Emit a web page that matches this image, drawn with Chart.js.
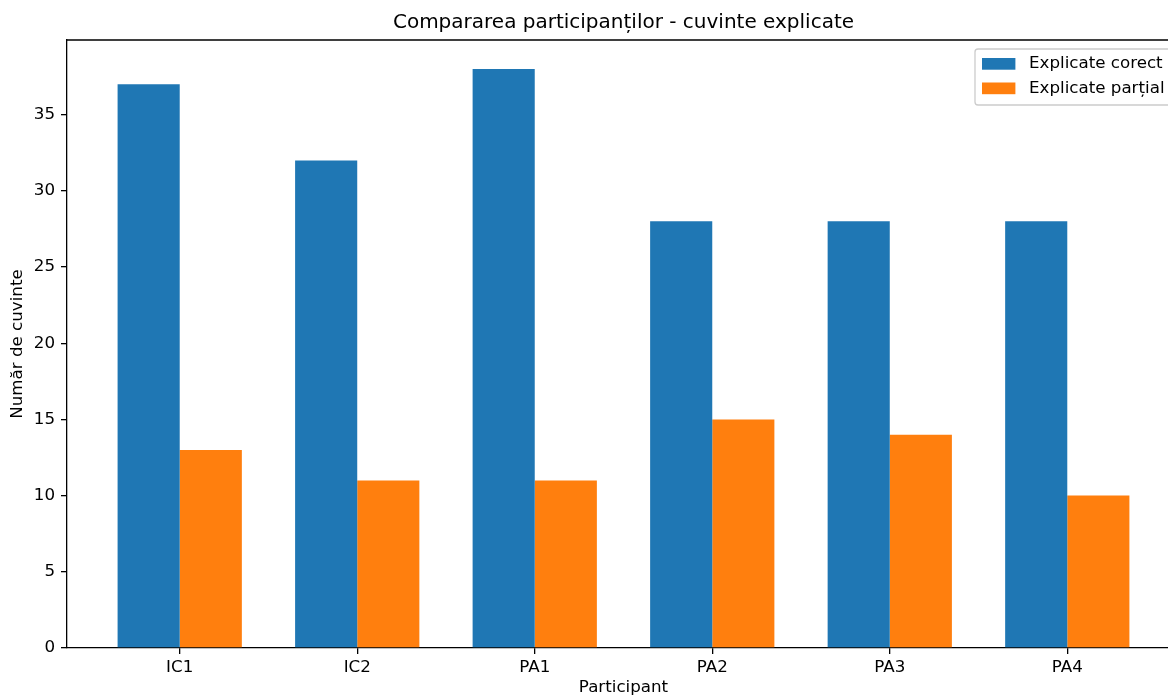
<!DOCTYPE html>
<html>
<head>
<meta charset="utf-8">
<script src="https://cdn.jsdelivr.net/npm/chart.js@4.4.1/dist/chart.umd.min.js"></script>
<style>
  html, body { margin: 0; padding: 0; background: #fff; overflow: hidden; }
  #wrap { width: 1200px; height: 700px; }
</style>
</head>
<body>
<div id="wrap"><canvas id="chart" width="1200" height="700"></canvas></div>
<script>
const categories = ['IC1', 'IC2', 'PA1', 'PA2', 'PA3', 'PA4'];
const correctValues = [37, 32, 38, 28, 28, 28];
const partialValues = [13, 11, 11, 15, 14, 10];
const yTicks = [0, 5, 10, 15, 20, 25, 30, 35];
const seriesLabels = ['Explicate corect', 'Explicate parțial'];
const seriesColors = ['#1f77b4', '#ff7f0e'];
const chartTitle = 'Compararea participanților - cuvinte explicate';

const FONT = 'DejaVu Sans';

// top and right spines plus the title centred over the axes, like matplotlib
const framePlugin = {
    id: 'frame',
    afterDraw(chart) {
        const { ctx, chartArea: a } = chart;
        ctx.save();
        ctx.strokeStyle = '#000';
        ctx.lineWidth = 1.3;
        ctx.beginPath();
        ctx.moveTo(a.left, a.top);
        ctx.lineTo(a.right, a.top);
        ctx.lineTo(a.right, a.bottom);
        ctx.stroke();

        ctx.fillStyle = '#000';
        ctx.font = `20px "${FONT}"`;
        ctx.textAlign = 'center';
        ctx.textBaseline = 'middle';
        ctx.fillText(chartTitle, (a.left + a.right) / 2, 23);
        ctx.restore();
    }
};

// matplotlib-style legend box in the upper right corner
const legendPlugin = {
    id: 'mplLegend',
    afterDraw(chart) {
        const { ctx, chartArea: a } = chart;
        const x = 975, y = 49, w = a.right - 7 - x, h = 56;
        ctx.save();
        ctx.fillStyle = 'rgba(255,255,255,0.8)';
        ctx.strokeStyle = 'rgba(204,204,204,1)';
        ctx.lineWidth = 1.3;
        ctx.beginPath();
        ctx.roundRect(x, y, w, h, 3);
        ctx.fill();
        ctx.stroke();
        ctx.font = `16.7px "${FONT}"`;
        ctx.textBaseline = 'middle';
        chart.data.datasets.forEach((ds, i) => {
            const rowY = 58 + i * 24.5;
            ctx.fillStyle = ds.backgroundColor;
            ctx.fillRect(982, rowY, 33.4, 11.7);
            ctx.fillStyle = '#000';
            ctx.fillText(ds.label, 1029, rowY + 6);
        });
        ctx.restore();
    }
};

new Chart(document.getElementById('chart'), {
    type: 'bar',
    data: {
        datasets: [
            {
                label: seriesLabels[0],
                data: correctValues.map((v, i) => ({ x: i, y: v })),
                backgroundColor: seriesColors[0],
                borderWidth: 0
            },
            {
                label: seriesLabels[1],
                data: partialValues.map((v, i) => ({ x: i, y: v })),
                backgroundColor: seriesColors[1],
                borderWidth: 0
            }
        ]
    },
    options: {
        responsive: false,
        animation: false,
        categoryPercentage: 0.7,
        barPercentage: 1.0,
        layout: { padding: { left: 0, right: 20, top: 40, bottom: 2 } },
        scales: {
            x: {
                type: 'linear',
                offset: false,
                min: -0.635,
                max: 5.635,
                afterBuildTicks: (scale) => {
                    scale.ticks = categories.map((_, i) => ({ value: i }));
                },
                afterFit: (scale) => { scale.height = 50; },
                ticks: {
                    callback: (v) => categories[v],
                    color: '#000',
                    font: { family: FONT, size: 16.7 },
                    padding: 4,
                    maxRotation: 0,
                    autoSkip: false
                },
                grid: {
                    offset: false,
                    drawOnChartArea: false,
                    drawTicks: true,
                    tickLength: 6,
                    tickColor: '#000',
                    lineWidth: 1.3
                },
                border: { display: true, color: '#000', width: 1.3 },
                title: {
                    display: true,
                    text: 'Participant',
                    color: '#000',
                    font: { family: FONT, size: 16.7 },
                    padding: 0
                }
            },
            y: {
                min: 0,
                max: 39.9,
                afterBuildTicks: (scale) => {
                    scale.ticks = yTicks.map(v => ({ value: v }));
                },
                afterFit: (scale) => { scale.width = 67; },
                ticks: {
                    color: '#000',
                    font: { family: FONT, size: 16.7 },
                    padding: 6
                },
                grid: {
                    drawOnChartArea: false,
                    drawTicks: true,
                    tickLength: 6,
                    tickColor: '#000',
                    lineWidth: 1.3
                },
                border: { display: true, color: '#000', width: 1.3 },
                title: {
                    display: true,
                    text: 'Număr de cuvinte',
                    color: '#000',
                    font: { family: FONT, size: 16.7 },
                    padding: { top: 8, bottom: 0 }
                }
            }
        },
        plugins: {
            legend: { display: false },
            tooltip: { enabled: false },
            title: { display: false }
        }
    },
    plugins: [framePlugin, legendPlugin]
});
</script>
</body>
</html>
